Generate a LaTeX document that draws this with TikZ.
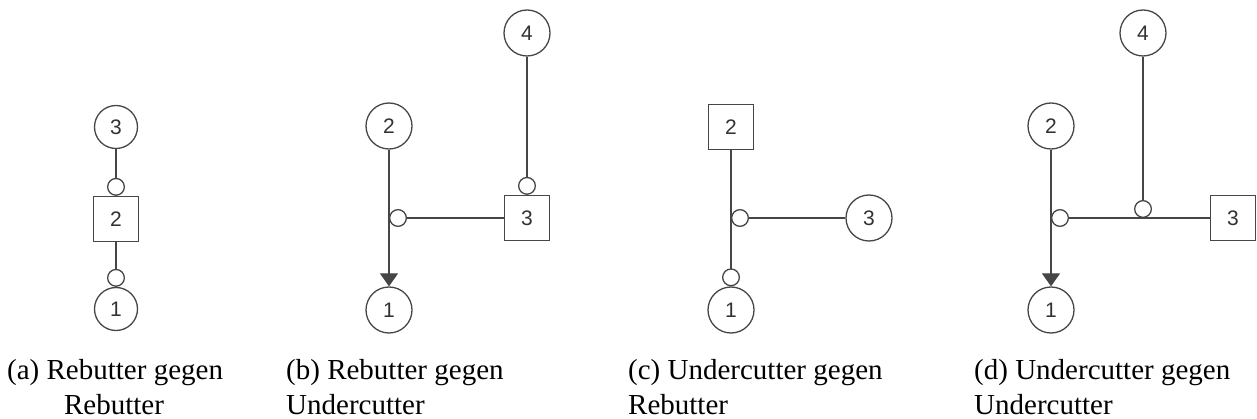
\documentclass[tikz,border=0pt]{standalone}
\usepackage{fontspec}
\newfontfamily\capfont{Liberation Serif}
\newfontfamily\numfont{Liberation Sans}
\usetikzlibrary{arrows.meta}
\definecolor{linegray}{RGB}{70,70,70}
\definecolor{textgray}{RGB}{50,50,50}
\begin{document}
\begin{tikzpicture}[x=1pt,y=-1pt,
  every node/.style={inner sep=0pt},
  argc/.style={circle,draw=linegray,line width=1.3pt,minimum size=46pt,font=\numfont\fontsize{21}{24}\selectfont,text=textgray},
  argca/.style={argc,minimum size=43pt},
  args/.style={rectangle,draw=linegray,line width=1.3pt,minimum size=45pt,font=\numfont\fontsize{21}{24}\selectfont,text=textgray},
  conn/.style={draw=linegray,line width=1.3pt},
  attack/.style={conn,-{Circle[open,length=18pt,width=18pt]}},
  support/.style={conn,-{Triangle[length=13pt,width=18pt]}},
  captext/.style={font=\capfont\fontsize{29}{35}\selectfont,anchor=base west,align=left}
]
\useasboundingbox (0,0) rectangle (1257,419);

% (a)
\node[argca] (a3) at (116,127) {3};
\node[args]  (a2) at (116,219) {2};
\node[argca] (a1) at (116,309) {1};
\draw[attack] (a3) -- (a2);
\draw[attack] (a2) -- (a1);

% (b)
\node[argc] (b4) at (527,33) {4};
\node[argc] (b2) at (389,126) {2};
\node[argc] (b1) at (389,310) {1};
\node[args] (b3) at (527,218) {3};
\coordinate (bx) at (389,218);
\draw[support] (b2) -- (b1);
\draw[attack] (b3) -- (bx);
\draw[attack] (b4) -- (b3);

% (c)
\node[args] (c2) at (731,127) {2};
\node[argc] (c1) at (731,310) {1};
\node[argc] (c3) at (869,218) {3};
\coordinate (cx) at (731,218);
\draw[attack] (c2) -- (c1);
\draw[attack] (c3) -- (cx);

% (d)
\node[argc] (d4) at (1143,33) {4};
\node[argc] (d2) at (1051,126) {2};
\node[argc] (d1) at (1051,310) {1};
\node[args] (d3) at (1233,218) {3};
\coordinate (dx) at (1051,218);
\coordinate (dy) at (1143,218);
\draw[support] (d2) -- (d1);
\draw[attack] (d3) -- (dx);
\draw[attack] (d4) -- (dy);

% captions
\node[captext] (capa1) at (7,379) {(a) Rebutter gegen};
\node[captext,anchor=base] (capa2) at (114,414) {Rebutter};
\node[captext] (capb) at (286,414) {(b) Rebutter gegen\\Undercutter};
\node[captext] (capc) at (628,414) {(c) Undercutter gegen\\Rebutter};
\node[captext] (capd) at (974,414) {(d) Undercutter gegen\\Undercutter};
\end{tikzpicture}
\end{document}
